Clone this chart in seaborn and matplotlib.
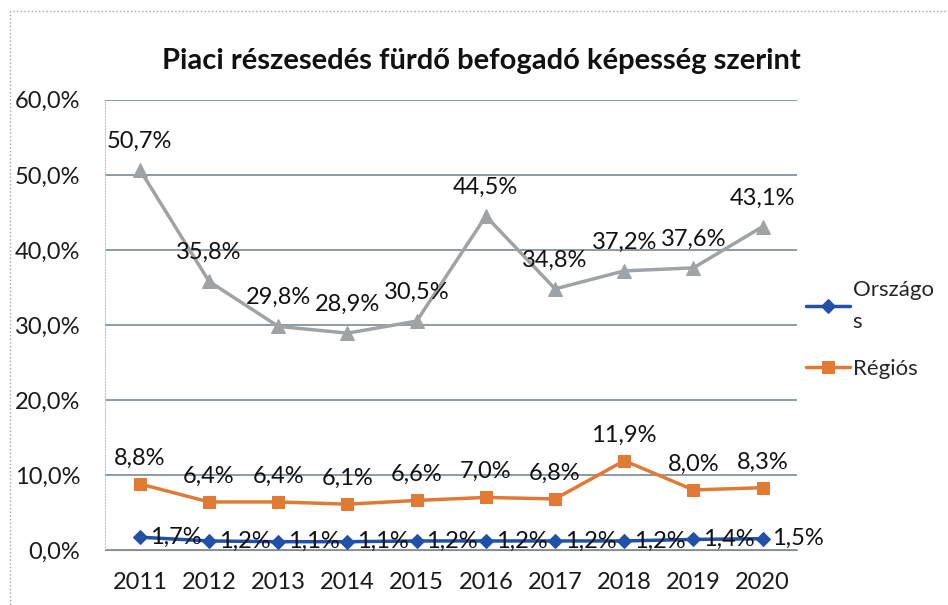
import matplotlib.pyplot as plt
from matplotlib.patches import Rectangle
from matplotlib.ticker import FuncFormatter
import seaborn as sns
import pandas as pd

# data
years = [2011, 2012, 2013, 2014, 2015, 2016, 2017, 2018, 2019, 2020]
orszagos = [1.7, 1.2, 1.1, 1.1, 1.2, 1.2, 1.2, 1.2, 1.4, 1.5]
regios = [8.8, 6.4, 6.4, 6.1, 6.6, 7.0, 6.8, 11.9, 8.0, 8.3]
harmadik = [50.7, 35.8, 29.8, 28.9, 30.5, 44.5, 34.8, 37.2, 37.6, 43.1]

sns.set_style('white')
plt.rcParams['font.family'] = ['Lato', 'DejaVu Sans']

def pct(v):
    return f'{v:.1f}%'.replace('.', ',')

fig = plt.figure(figsize=(9.48, 6.05), dpi=100)
ax = fig.add_axes([0.111, 0.091, 0.730, 0.744])

df = pd.DataFrame({'year': years, 'Országos': orszagos, 'Régiós': regios, 'grey': harmadik})

sns.lineplot(data=df, x='year', y='grey', ax=ax, color='#a0a3a6', marker='^',
             markersize=10, markeredgecolor='#a0a3a6', linewidth=2.5, label='_nolegend_')
sns.lineplot(data=df, x='year', y='Régiós', ax=ax, color='#e07a35', marker='s',
             markersize=9, markeredgecolor='#e07a35', linewidth=2.5, label='Régiós')
sns.lineplot(data=df, x='year', y='Országos', ax=ax, color='#2050a8', marker='D',
             markersize=7, markeredgecolor='#2050a8', linewidth=2.5, label='Országo\ns')

lab_kw = dict(fontsize=17, color='#111111')
for x, v in zip(years, harmadik):
    ax.annotate(pct(v), (x, v), xytext=(0, 13), textcoords='offset points', ha='center', va='bottom', **lab_kw)
for x, v in zip(years, regios):
    ax.annotate(pct(v), (x, v), xytext=(0, 11), textcoords='offset points', ha='center', va='bottom', **lab_kw)
for x, v in zip(years, orszagos):
    ax.annotate(pct(v), (x, v), xytext=(7, 0), textcoords='offset points', ha='left', va='center', **lab_kw)

ax.set_xlim(2010.5, 2020.5)
ax.set_ylim(0, 60)
ax.set_yticks(range(0, 61, 10))
ax.yaxis.set_major_formatter(FuncFormatter(lambda v, p: pct(v)))
ax.set_xticks(years)
ax.set_xticklabels([str(y) for y in years])
ax.set_xticks([y + 0.5 for y in [2010] + years], minor=True)
ax.tick_params(axis='x', which='major', length=0, labelsize=17, pad=16)
ax.tick_params(axis='x', which='minor', length=6, color='#8a8a8a', direction='out')
ax.tick_params(axis='y', length=0, labelsize=17, pad=18)
ax.set_xlabel('')
ax.set_ylabel('')
ax.grid(axis='y', color='#6f7f8c', linewidth=1.1)
for s in ['top', 'right']:
    ax.spines[s].set_visible(False)
ax.spines['left'].set_color('#b8c4d8')
ax.spines['left'].set_linestyle(':')
ax.spines['bottom'].set_color('#8a8a8a')
for t in ax.get_xticklabels() + ax.get_yticklabels():
    t.set_color('#1a1a1a')

handles, labels = ax.get_legend_handles_labels()
leg = ax.legend(handles[::-1], labels[::-1], loc='center left', bbox_to_anchor=(0.99, 0.49), frameon=False,
                fontsize=16, handlelength=2.0, labelspacing=1.2, borderaxespad=0.3, handletextpad=0.1)
leg.get_texts()[0].set_linespacing(1.75)

fig.text(0.508, 0.9, 'Piaci részesedés fürdő befogadó képesség szerint', ha='center',
         va='center', fontsize=21, fontweight='bold', color='#111111')

fig.patches.append(Rectangle((0.011, -0.02), 1.2, 1.002, transform=fig.transFigure,
                             fill=False, edgecolor='#9aa6b8', linestyle=':', linewidth=1))

fig.savefig('out.png', dpi=100)
